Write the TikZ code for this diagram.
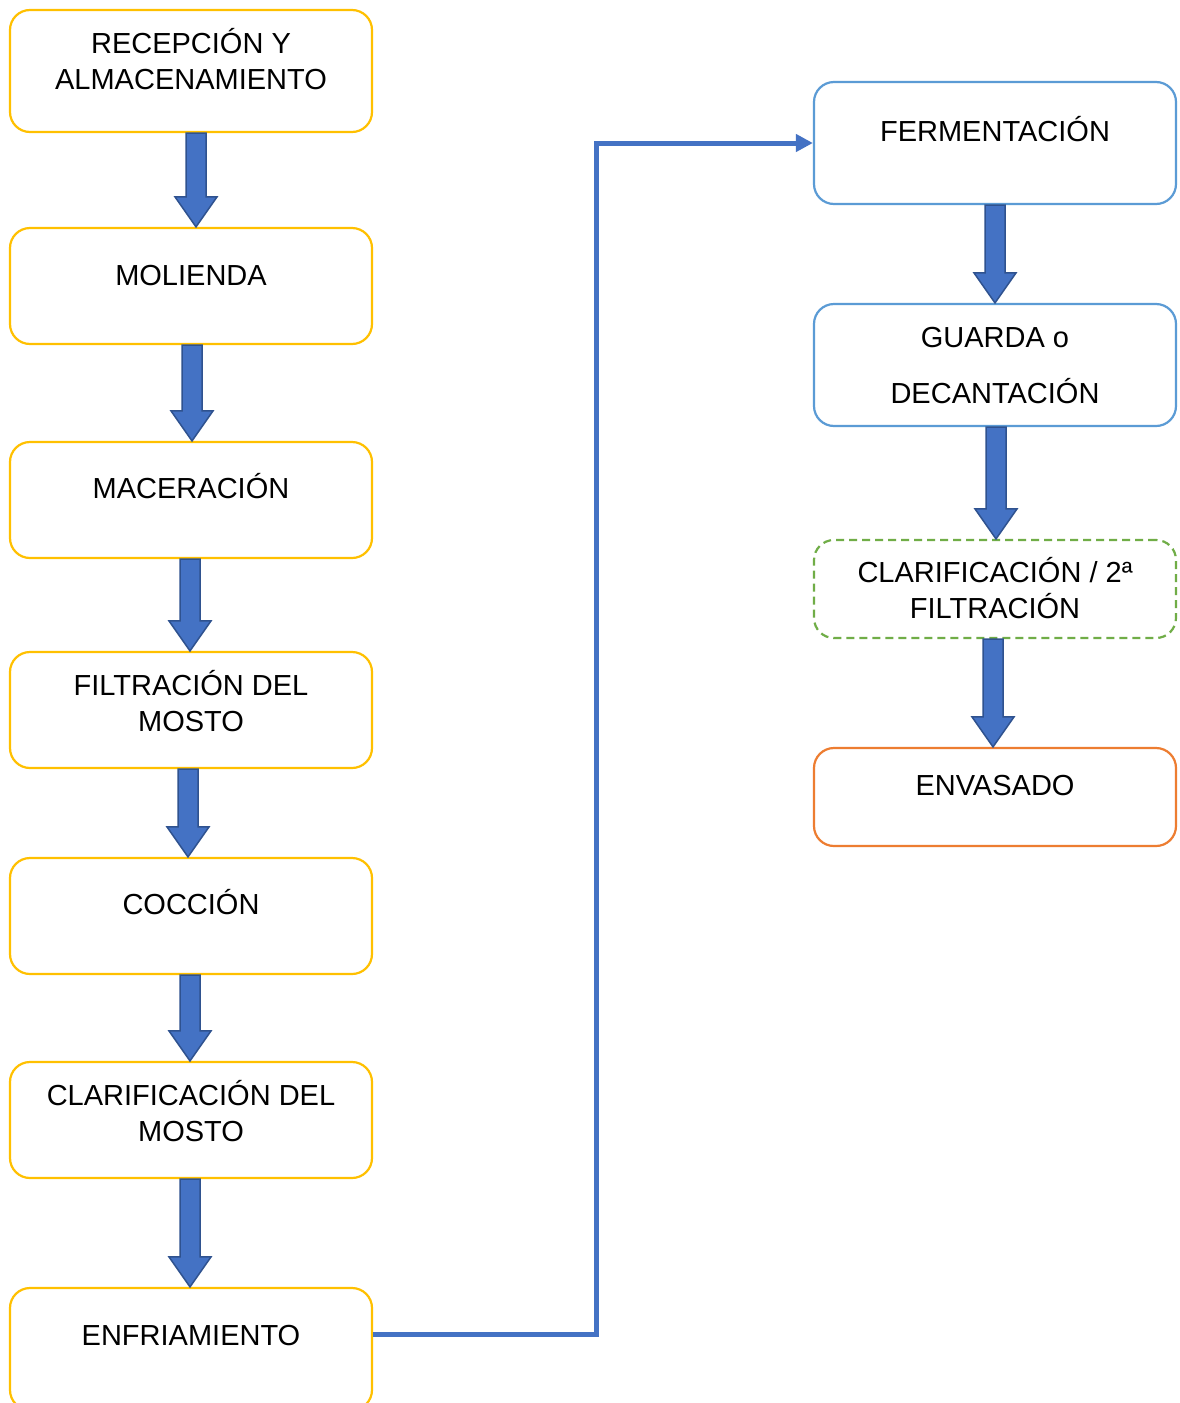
\documentclass[tikz,border=0pt]{standalone}
\usepackage{fontspec}
\setmainfont{Liberation Sans}
\usetikzlibrary{calc,arrows.meta}
\definecolor{cyel}{HTML}{FFC000}
\definecolor{cblu}{HTML}{5B9BD5}
\definecolor{cgrn}{HTML}{70AD47}
\definecolor{corg}{HTML}{ED7D31}
\definecolor{carr}{HTML}{4472C4}
\definecolor{carrb}{HTML}{2F528F}
\tikzset{
  stepbox/.style={draw, line width=2.2pt, rounded corners=20pt, minimum width=362pt, inner sep=0pt},
  ybox/.style={stepbox, draw=cyel},
  bbox/.style={stepbox, draw=cblu},
  gbox/.style={stepbox, draw=cgrn, dash pattern=on 8pt off 5pt},
  obox/.style={stepbox, draw=corg},
  txt/.style={font=\fontsize{29}{36}\selectfont, align=center, inner sep=0pt, text=black},
  barrow/.style={fill=carr, draw=carrb, line width=1.5pt, line join=miter},
  link/.style={draw=carr, line width=5pt, -{Triangle[length=17pt,width=17pt]}}
}
\newcommand\blockarrow[3]{%
  \draw[barrow] let \p1=(#1.south), \p2=(#2.north) in
   (#3pt-10pt,\y1) -- (#3pt+10pt,\y1) -- (#3pt+10pt,\y2+30pt) -- (#3pt+21pt,\y2+30pt)
   -- (#3pt,\y2) -- (#3pt-21pt,\y2+30pt) -- (#3pt-10pt,\y2+30pt) -- cycle;}
\begin{document}
\begin{tikzpicture}[x=1pt,y=-1pt]
\clip (0,0) rectangle (1179,1403);
\fill[white] (0,0) rectangle (1179,1403);
% left column boxes
\node[ybox, minimum height=122pt] (rec) at (191,71) {};
\node[ybox, minimum height=116pt] (mol) at (191,286) {};
\node[ybox, minimum height=116pt] (mac) at (191,500) {};
\node[ybox, minimum height=116pt] (fil) at (191,710) {};
\node[ybox, minimum height=116pt] (coc) at (191,916) {};
\node[ybox, minimum height=116pt] (cla) at (191,1120) {};
\node[ybox, minimum height=122pt] (enf) at (191,1349) {};
% right column boxes
\node[bbox, minimum height=122pt] (fer) at (995,143) {};
\node[bbox, minimum height=122pt] (gua) at (995,365) {};
\node[gbox, minimum height=98pt] (cl2) at (995,589) {};
\node[obox, minimum height=98pt] (env) at (995,797) {};
% texts
\node[txt] (recT) at (191,59) {RECEPCIÓN Y\\ALMACENAMIENTO};
\node[txt, anchor=base] (molT) at (191,285) {MOLIENDA};
\node[txt, anchor=base] (macT) at (191,498) {MACERACIÓN};
\node[txt] (filT) at (191,701) {FILTRACIÓN DEL\\MOSTO};
\node[txt, anchor=base] (cocT) at (191,914) {COCCIÓN};
\node[txt] (claT) at (191,1111) {CLARIFICACIÓN DEL\\MOSTO};
\node[txt, anchor=base] (enfT) at (191,1345) {ENFRIAMIENTO};
\node[txt, anchor=base] (ferT) at (995,141) {FERMENTACIÓN};
\node[txt] (guaT) at (995,366) {GUARDA o\\[20pt]DECANTACIÓN};
\node[txt] (cl2T) at (995,588) {CLARIFICACIÓN / 2ª\\FILTRACIÓN};
\node[txt, anchor=base] (envT) at (995,795) {ENVASADO};
% block arrows
\blockarrow{rec}{mol}{196}
\blockarrow{mol}{mac}{192}
\blockarrow{mac}{fil}{190}
\blockarrow{fil}{coc}{188}
\blockarrow{coc}{cla}{190}
\blockarrow{cla}{enf}{190}
\blockarrow{fer}{gua}{995}
\blockarrow{gua}{cl2}{996}
\blockarrow{cl2}{env}{993}
% connector
\draw[link] ([yshift=15pt]enf.east) -- ++(223,0) |- (fer.west);
\end{tikzpicture}
\end{document}
